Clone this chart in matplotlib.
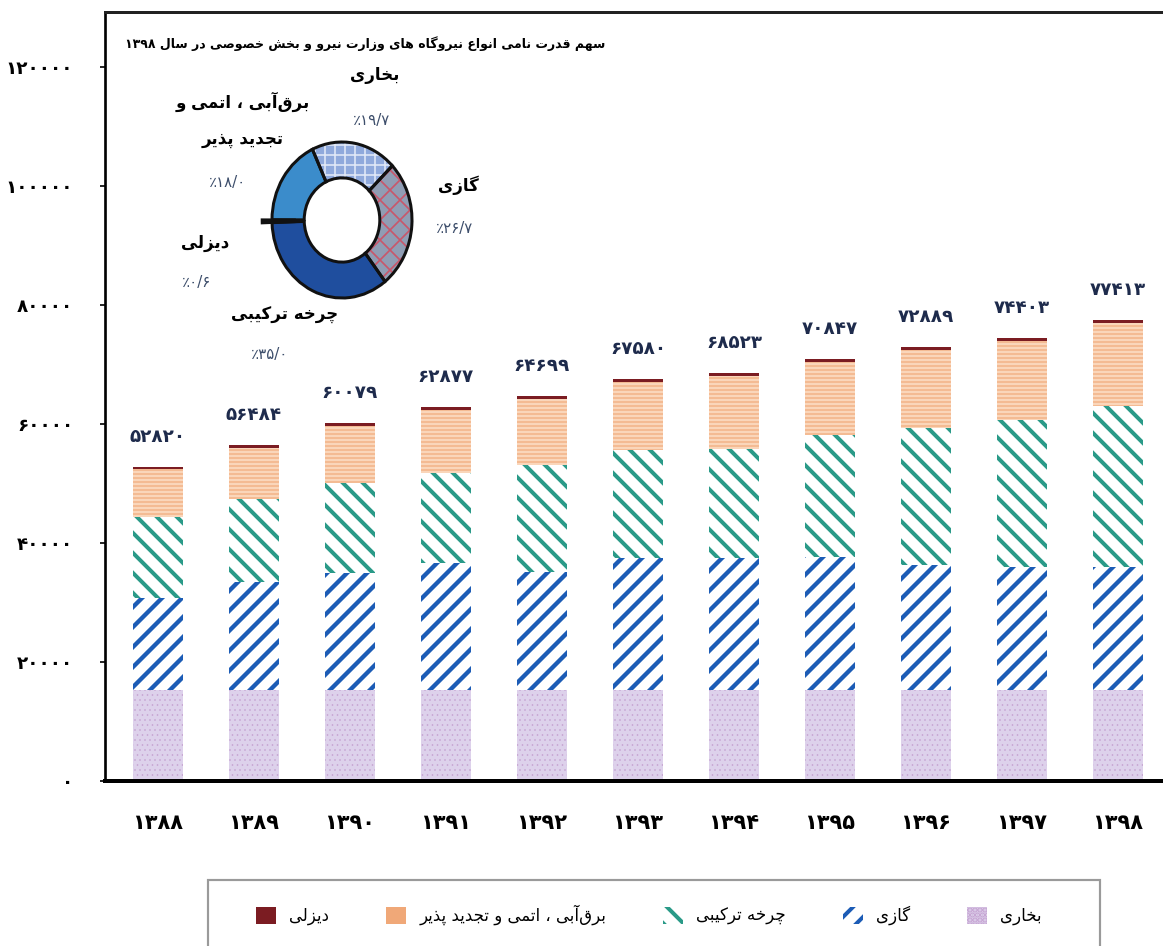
import re

import matplotlib
matplotlib.use('Agg')
import matplotlib.pyplot as plt
from matplotlib.patches import Patch, Rectangle
from matplotlib.ticker import FuncFormatter

# installed capacity (MW) by plant type, years 1388..1398
years = [1388, 1389, 1390, 1391, 1392, 1393, 1394, 1395, 1396, 1397, 1398]
totals = [52820, 56484, 60079, 62877, 64699, 67580, 68523, 70847, 72889, 74403, 77413]
steam = [15330, 15330, 15330, 15330, 15330, 15330, 15330, 15330, 15330, 15330, 15250]
gas = [15460, 18150, 19660, 21340, 19830, 22180, 22180, 22350, 21000, 20670, 20670]
combined = [13610, 13950, 15130, 15130, 17980, 18150, 18320, 20500, 23030, 24710, 27095]
hydro = [7940, 8574, 9479, 10597, 11079, 11440, 12213, 12187, 13049, 13213, 13934]
diesel = [480, 480, 480, 480, 480, 480, 480, 480, 480, 480, 464]

series_names = ['بخاری', 'گازی', 'چرخه ترکیبی', 'برق‌آبی ، اتمی و تجدید پذیر', 'دیزلی']

# 1398 share, clockwise from the top: steam, gas, combined, diesel, hydro
pie_names = ['بخاری', 'گازی', 'چرخه ترکیبی', 'دیزلی', 'برق‌آبی ، اتمی و\nتجدید پذیر']
pie_pcts = [19.7, 26.7, 35.0, 0.6, 18.0]
pie_title = 'سهم قدرت نامی انواع نیروگاه های وزارت نیرو و بخش خصوصی در سال ۱۳۹۸'

yticks = [0, 20000, 40000, 60000, 80000, 100000, 120000]

# --- minimal Persian shaping (matplotlib does not join Arabic letters) ---
FORMS = {
    'ا': (0xFE8D, 2), 'آ': (0xFE81, 2), 'د': (0xFEA9, 2), 'ذ': (0xFEAB, 2),
    'ر': (0xFEAD, 2), 'ز': (0xFEAF, 2), 'ژ': (0xFB8A, 2), 'و': (0xFEED, 2),
    'ب': (0xFE8F, 4), 'پ': (0xFB56, 4), 'ت': (0xFE95, 4), 'ث': (0xFE99, 4),
    'ج': (0xFE9D, 4), 'چ': (0xFB7A, 4), 'ح': (0xFEA1, 4), 'خ': (0xFEA5, 4),
    'س': (0xFEB1, 4), 'ش': (0xFEB5, 4), 'ص': (0xFEB9, 4), 'ض': (0xFEBD, 4),
    'ط': (0xFEC1, 4), 'ظ': (0xFEC5, 4), 'ع': (0xFEC9, 4), 'غ': (0xFECD, 4),
    'ف': (0xFED1, 4), 'ق': (0xFED5, 4), 'ک': (0xFB8E, 4), 'گ': (0xFB92, 4),
    'ل': (0xFEDD, 4), 'م': (0xFEE1, 4), 'ن': (0xFEE5, 4), 'ه': (0xFEE9, 4),
    'ی': (0xFBFC, 4),
}
FA_DIGITS = str.maketrans('0123456789.', '۰۱۲۳۴۵۶۷۸۹/')


def fa_num(v):
    return str(v).translate(FA_DIGITS)


def shape_line(text):
    n = len(text)

    def letter(i):
        return 0 <= i < n and text[i] in FORMS

    def dual(i):
        return letter(i) and FORMS[text[i]][1] == 4

    out = []
    for i, c in enumerate(text):
        if c == '\u200c':
            continue
        if c not in FORMS:
            out.append(c)
            continue
        base, k = FORMS[c]
        prev = dual(i - 1)
        nxt = k == 4 and letter(i + 1)
        if prev and nxt:
            out.append(chr(base + 3))
        elif prev:
            out.append(chr(base + 1))
        elif nxt:
            out.append(chr(base + 2))
        else:
            out.append(chr(base))
    s = ''.join(reversed(out))
    return re.sub(r'[۰-۹0-9/]+', lambda m: m.group(0)[::-1], s)


def fa(text):
    return '\n'.join(shape_line(t) for t in text.split('\n'))


def hatch_lw(patches, lw):
    for p in patches:
        if hasattr(p, 'set_hatch_linewidth'):
            p.set_hatch_linewidth(lw)


plt.rcParams['font.family'] = ['DejaVu Sans']
plt.rcParams['hatch.linewidth'] = 2.4

W, H = 1163, 946
fig = plt.figure(figsize=(W / 120, H / 120), dpi=120)


def fx(x):
    return x / W


def fy(y):
    return 1 - y / H


ax = fig.add_axes([fx(105), fy(781), 1 - fx(105), fy(12) - fy(781)])

x = list(range(len(years)))
styles = [
    dict(color='#ddd1eb', edgecolor='#c6a4d2', hatch='....', lw=0.4),
    dict(color='white', edgecolor='#1c5cb6', hatch='//', lw=2.6),
    dict(color='white', edgecolor='#2a9a88', hatch='\\\\', lw=2.4),
    dict(color='#fad6ba', edgecolor='#f0a878', hatch='-----', lw=0.7),
    dict(color='#7b1c22', edgecolor='#7b1c22', hatch=None, lw=0.5),
]
bottom = [0] * len(years)
handles = []
for vals, st, name in zip([steam, gas, combined, hydro, diesel], styles, series_names):
    bars = ax.bar(x, vals, width=0.52, bottom=bottom, color=st['color'],
                  edgecolor=st['edgecolor'], hatch=st['hatch'], linewidth=0)
    hatch_lw(bars, st['lw'])
    h = Patch(facecolor=st['color'], edgecolor=st['edgecolor'], hatch=st['hatch'],
              linewidth=0, label=fa(name))
    hatch_lw([h], st['lw'])
    handles.append(h)
    bottom = [b + v for b, v in zip(bottom, vals)]

for xi, t in zip(x, totals):
    ax.annotate(fa_num(t), (xi, t), xytext=(0, 18), textcoords='offset points',
                ha='center', va='center', fontsize=11, fontweight='bold', color='#1e2b4c')

ax.set_xlim(-(158 - 105) / 96, (1163 - 158) / 96)
ax.set_ylim(0, 129200)
ax.set_xticks(x)
ax.set_xticklabels([fa_num(y) for y in years], fontsize=12.5, fontweight='bold')
ax.tick_params(axis='x', length=0, pad=19)
ax.set_yticks(yticks)
ax.yaxis.set_major_formatter(FuncFormatter(lambda v, p: fa_num(int(v))))
ax.tick_params(axis='y', length=3, width=1, direction='out', pad=16, labelsize=11)
for lab in ax.get_yticklabels():
    lab.set_fontweight('bold')
ax.spines['right'].set_visible(False)
ax.spines['left'].set_linewidth(1.6)
ax.spines['bottom'].set_linewidth(2.4)
ax.spines['top'].set_linewidth(1.8)
ax.spines['top'].set_color('#222222')

# legend, right-to-left order, inside a wide frame drawn separately
order = [4, 3, 2, 1, 0]
fig.legend([handles[i] for i in order], [handles[i].get_label() for i in order],
           loc='center', bbox_to_anchor=(fx(649), fy(915)), ncol=5,
           fontsize=10, frameon=False, borderpad=0, columnspacing=3.4,
           handlelength=1.2, handleheight=1.2, handletextpad=0.8)
fig.add_artist(Rectangle((fx(208), fy(965)), fx(1100) - fx(208), fy(880) - fy(965),
                         transform=fig.transFigure, fill=False, edgecolor='#9a9a9a',
                         linewidth=1.3))

# donut inset
pax = fig.add_axes([fx(272), fy(298), fx(140), fy(142) - fy(298)])
pie_colors = ['#8fa9dc', '#909db4', '#1f4e9e', '#111111', '#3b8ccb']
pie_hatch = ['++', 'xx', None, None, None]
pie_hatch_col = ['#dfe7f7', '#c9566a', '#1f4e9e', '#111111', '#3b8ccb']
explode = [0, 0, 0, 0.14, 0]
wedges, _ = pax.pie(pie_pcts, colors=pie_colors, startangle=115, counterclock=False,
                    explode=explode, radius=1, wedgeprops=dict(width=0.46, linewidth=0))
for w, hc, ht in zip(wedges, pie_hatch_col, pie_hatch):
    w.set_edgecolor(hc)
    w.set_hatch(ht)
    w.set_clip_on(False)
hatch_lw(wedges, 1.0)
outline, _ = pax.pie(pie_pcts, colors=['none'] * 5, startangle=115, counterclock=False,
                     explode=explode, radius=1,
                     wedgeprops=dict(width=0.46, linewidth=1.8, edgecolor='#111111'))
for w in outline:
    w.set_clip_on(False)
pax.set_aspect('auto')
pax.set_xlim(-1, 1)
pax.set_ylim(-1, 1)
pax.axis('off')

name_pos = [(375, 75), (458, 185), (285, 315), (205, 243), (243, 120)]
pct_pos = [(372, 120), (455, 228), (270, 354), (197, 283), (228, 183)]
for name, pct, (nx, ny), (qx, qy) in zip(pie_names, pie_pcts, name_pos, pct_pos):
    fig.text(fx(nx), fy(ny), fa(name), ha='center', va='center', fontsize=10,
             fontweight='bold', linespacing=2.3)
    fig.text(fx(qx), fy(qy), fa(fa_num(f'{pct:.1f}') + '٪'), ha='center', va='center',
             fontsize=9, color='#3d4e6b')

fig.text(fx(605), fy(44), fa(pie_title), ha='right', va='center', fontsize=7.5,
         fontweight='bold')

fig.savefig('out.png', dpi=120)
